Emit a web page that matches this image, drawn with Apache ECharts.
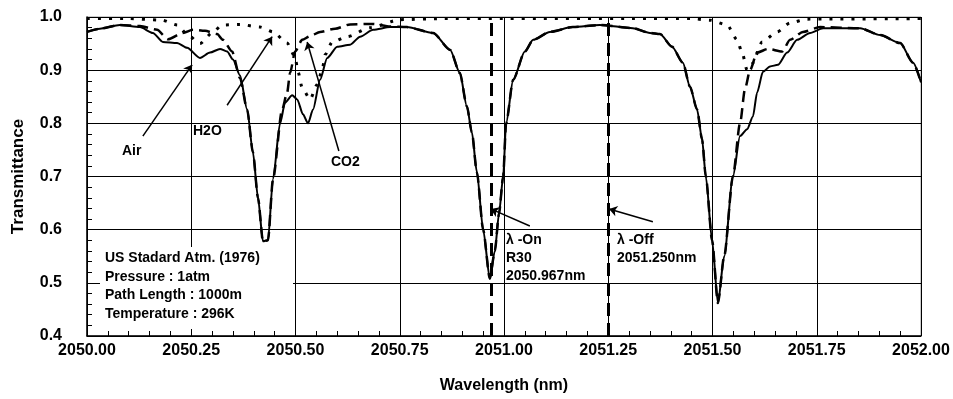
<!DOCTYPE html>
<html>
<head>
<meta charset="utf-8">
<title>Transmittance</title>
<script src="https://cdn.jsdelivr.net/npm/echarts/dist/echarts.min.js"></script>
<style>
    html, body { margin: 0; padding: 0; background: #fff; }
    #chart { width: 953px; height: 399px; }
</style>
</head>
<body>
<div id="chart"></div>
<script>
    // Air (solid)
    var airWave = [2050.000, 2050.031, 2050.079, 2050.127, 2050.158, 2050.182, 2050.216, 2050.240, 2050.271, 2050.295,
        2050.319, 2050.336, 2050.350, 2050.367, 2050.384, 2050.398, 2050.410, 2050.422, 2050.434, 2050.446,
        2050.463, 2050.475, 2050.492, 2050.504, 2050.518, 2050.530, 2050.542, 2050.559, 2050.576, 2050.600,
        2050.631, 2050.655, 2050.686, 2050.727, 2050.767, 2050.830, 2050.871, 2050.894, 2050.911, 2050.923,
        2050.935, 2050.950, 2050.966, 2050.978, 2050.988, 2050.998, 2051.005, 2051.022, 2051.050, 2051.070,
        2051.110, 2051.165, 2051.230, 2051.309, 2051.350, 2051.374, 2051.403, 2051.429, 2051.446, 2051.463,
        2051.475, 2051.484, 2051.499, 2051.513, 2051.528, 2051.549, 2051.566, 2051.583, 2051.597, 2051.607,
        2051.621, 2051.638, 2051.657, 2051.679, 2051.703, 2051.734, 2051.765, 2051.854, 2051.902, 2051.950,
        2051.981, 2052.000];
    var airTrans = [0.972, 0.978, 0.985, 0.981, 0.970, 0.953, 0.951, 0.942, 0.923, 0.933,
        0.940, 0.935, 0.920, 0.890, 0.826, 0.745, 0.660, 0.578, 0.580, 0.695,
        0.800, 0.839, 0.853, 0.845, 0.817, 0.800, 0.826, 0.882, 0.923, 0.944,
        0.948, 0.963, 0.976, 0.981, 0.981, 0.970, 0.938, 0.895, 0.832, 0.783,
        0.708, 0.600, 0.508, 0.560, 0.630, 0.700, 0.800, 0.882, 0.935, 0.957,
        0.972, 0.981, 0.985, 0.979, 0.970, 0.968, 0.944, 0.914, 0.869, 0.826,
        0.770, 0.700, 0.580, 0.462, 0.550, 0.700, 0.776, 0.789, 0.813, 0.858,
        0.897, 0.907, 0.910, 0.933, 0.957, 0.970, 0.979, 0.979, 0.966, 0.951,
        0.914, 0.877];

    // CO2 (long dash)
    var co2Wave = [2050.000, 2050.031, 2050.079, 2050.127, 2050.168, 2050.194, 2050.230, 2050.254, 2050.283, 2050.312,
        2050.326, 2050.348, 2050.367, 2050.384, 2050.398, 2050.410, 2050.422, 2050.434, 2050.446, 2050.468,
        2050.480, 2050.487, 2050.499, 2050.516, 2050.535, 2050.559, 2050.595, 2050.631, 2050.686, 2050.727,
        2050.767, 2050.830, 2050.871, 2050.894, 2050.911, 2050.923, 2050.935, 2050.950, 2050.966, 2050.978,
        2050.988, 2050.998, 2051.005, 2051.022, 2051.050, 2051.070, 2051.110, 2051.165, 2051.230, 2051.309,
        2051.350, 2051.374, 2051.403, 2051.429, 2051.446, 2051.463, 2051.475, 2051.484, 2051.499, 2051.513,
        2051.528, 2051.549, 2051.566, 2051.578, 2051.590, 2051.607, 2051.633, 2051.667, 2051.686, 2051.717,
        2051.758, 2051.854, 2051.902, 2051.950, 2051.981, 2052.000];
    var co2Trans = [0.972, 0.978, 0.985, 0.983, 0.976, 0.958, 0.970, 0.976, 0.974, 0.968,
        0.957, 0.935, 0.885, 0.826, 0.745, 0.660, 0.578, 0.580, 0.695, 0.826,
        0.858, 0.895, 0.935, 0.957, 0.964, 0.972, 0.978, 0.986, 0.987, 0.982,
        0.981, 0.970, 0.938, 0.895, 0.832, 0.783, 0.708, 0.600, 0.508, 0.560,
        0.630, 0.700, 0.800, 0.882, 0.935, 0.957, 0.972, 0.981, 0.985, 0.979,
        0.970, 0.968, 0.944, 0.914, 0.869, 0.826, 0.770, 0.700, 0.580, 0.462,
        0.550, 0.700, 0.800, 0.865, 0.900, 0.933, 0.940, 0.935, 0.957, 0.972,
        0.981, 0.979, 0.966, 0.951, 0.914, 0.877];

    // H2O (dotted)
    var h2oWave = [2050.000, 2050.100, 2050.180, 2050.216, 2050.242, 2050.271, 2050.300, 2050.324, 2050.367, 2050.415,
        2050.446, 2050.480, 2050.499, 2050.506, 2050.516, 2050.535, 2050.552, 2050.564, 2050.571, 2050.588,
        2050.624, 2050.679, 2050.751, 2050.850, 2051.450, 2051.494, 2051.535, 2051.559, 2051.571, 2051.583,
        2051.595, 2051.619, 2051.655, 2051.686, 2051.727, 2052.000];
    var h2oTrans = [0.997, 0.997, 0.994, 0.985, 0.966, 0.950, 0.970, 0.985, 0.986, 0.981,
        0.972, 0.951, 0.925, 0.897, 0.867, 0.845, 0.873, 0.900, 0.929, 0.953,
        0.963, 0.980, 0.995, 0.997, 0.997, 0.994, 0.985, 0.957, 0.933, 0.900,
        0.912, 0.953, 0.972, 0.989, 0.996, 0.997];

    var xTicks = { min: 2050, max: 2052, step: 0.25 };
    var yTicks = { min: 0.4, max: 1.0, step: 0.1 };
    var laserLines = [2050.967, 2051.25];

    function pairs(xs, ys) {
        return xs.map(function (x, i) { return [x, ys[i]]; });
    }

    var labelFont = '"Liberation Sans", Arial, sans-serif';
    var noteFont = 'bold 14px ' + labelFont;

    var arrowStyle = { color: '#000', width: 1.5, type: 'solid' };
    function arrow(from, to) {
        return [{ coord: from, symbol: 'none' }, { coord: to, symbol: 'arrow' }];
    }

    var chart = echarts.init(document.getElementById('chart'));
    var option = {
        backgroundColor: '#fff',
        animation: false,
        grid: {
            left: 87, right: 32, top: 17, bottom: 61,
            show: true, borderColor: '#999', borderWidth: 1
        },
        xAxis: {
            type: 'value',
            min: xTicks.min, max: xTicks.max, interval: xTicks.step,
            name: 'Wavelength (nm)',
            nameLocation: 'middle',
            nameGap: 42,
            nameTextStyle: { fontFamily: labelFont, fontWeight: 'bold', fontSize: 16, color: '#000' },
            axisLine: { lineStyle: { color: '#000', width: 1.5 } },
            axisTick: { inside: true, length: 6, lineStyle: { color: '#000' } },
            minorTick: { show: true, splitNumber: 5, length: 5, lineStyle: { color: '#000' } },
            splitLine: { show: true, lineStyle: { color: '#000', width: 1 } },
            axisLabel: {
                margin: 7, color: '#000', fontFamily: labelFont, fontWeight: 'bold', fontSize: 16,
                formatter: function (v) { return v.toFixed(2); }
            }
        },
        yAxis: {
            type: 'value',
            min: yTicks.min, max: yTicks.max, interval: yTicks.step,
            name: 'Transmittance',
            nameLocation: 'middle',
            nameGap: 60,
            nameTextStyle: { fontFamily: labelFont, fontWeight: 'bold', fontSize: 17, color: '#000' },
            axisLine: { show: true, lineStyle: { color: '#000', width: 1.5 } },
            axisTick: { show: true, inside: true, length: 6, lineStyle: { color: '#000' } },
            minorTick: { show: true, splitNumber: 5, length: 5, lineStyle: { color: '#000' } },
            splitLine: { show: true, lineStyle: { color: '#000', width: 1 } },
            axisLabel: {
                margin: 25, color: '#000', fontFamily: labelFont, fontWeight: 'bold', fontSize: 16,
                formatter: function (v) { return v.toFixed(1); }
            }
        },
        series: [
            {
                name: 'H2O',
                type: 'line',
                data: pairs(h2oWave, h2oTrans),
                showSymbol: false,
                smooth: 0.25,
                smoothMonotone: 'x',
                lineStyle: { color: '#000', width: 3, type: [3, 8], cap: 'butt' },
                z: 3
            },
            {
                name: 'CO2',
                type: 'line',
                data: pairs(co2Wave, co2Trans),
                showSymbol: false,
                smooth: 0.25,
                smoothMonotone: 'x',
                lineStyle: { color: '#000', width: 2.5, type: [11, 6] },
                z: 4
            },
            {
                name: 'Air',
                type: 'line',
                data: pairs(airWave, airTrans),
                showSymbol: false,
                smooth: 0.25,
                smoothMonotone: 'x',
                lineStyle: { color: '#000', width: 2 },
                z: 5,
                markLine: {
                    silent: true,
                    symbol: 'none',
                    label: { show: false },
                    lineStyle: { color: '#000', width: 3, type: [13, 7] },
                    data: laserLines.map(function (x) { return { xAxis: x }; })
                }
            },
            {
                name: 'arrows',
                type: 'line',
                data: [],
                markLine: {
                    silent: true,
                    symbolSize: 8,
                    label: { show: false },
                    lineStyle: arrowStyle,
                    data: [
                        arrow([2050.134, 0.776], [2050.252, 0.910]),
                        arrow([2050.336, 0.834], [2050.444, 0.963]),
                        arrow([2050.604, 0.748], [2050.528, 0.953]),
                        arrow([2051.062, 0.607], [2050.968, 0.639]),
                        arrow([2051.357, 0.615], [2051.252, 0.639])
                    ]
                }
            }
        ],
        graphic: [
            { type: 'rect', left: 100, top: 247, shape: { width: 193, height: 82 }, style: { fill: '#fff' }, z: 10 },
            {
                type: 'text', left: 105, top: 249, z: 11,
                style: {
                    text: 'US Stadard Atm. (1976)\nPressure : 1atm\nPath Length : 1000m\nTemperature : 296K',
                    font: noteFont, fill: '#000', lineHeight: 18.5
                }
            },
            { type: 'text', left: 122, top: 144, z: 11, style: { text: 'Air', font: noteFont, fill: '#000' } },
            { type: 'text', left: 193, top: 124, z: 11, style: { text: 'H2O', font: noteFont, fill: '#000' } },
            { type: 'text', left: 331, top: 155, z: 11, style: { text: 'CO2', font: noteFont, fill: '#000' } },
            {
                type: 'text', left: 506, top: 231, z: 11,
                style: { text: 'λ -On\nR30\n2050.967nm', font: noteFont, fill: '#000', lineHeight: 18 }
            },
            {
                type: 'text', left: 617, top: 231, z: 11,
                style: { text: 'λ -Off\n2051.250nm', font: noteFont, fill: '#000', lineHeight: 18 }
            }
        ]
    };
    chart.setOption(option);
</script>
</body>
</html>
